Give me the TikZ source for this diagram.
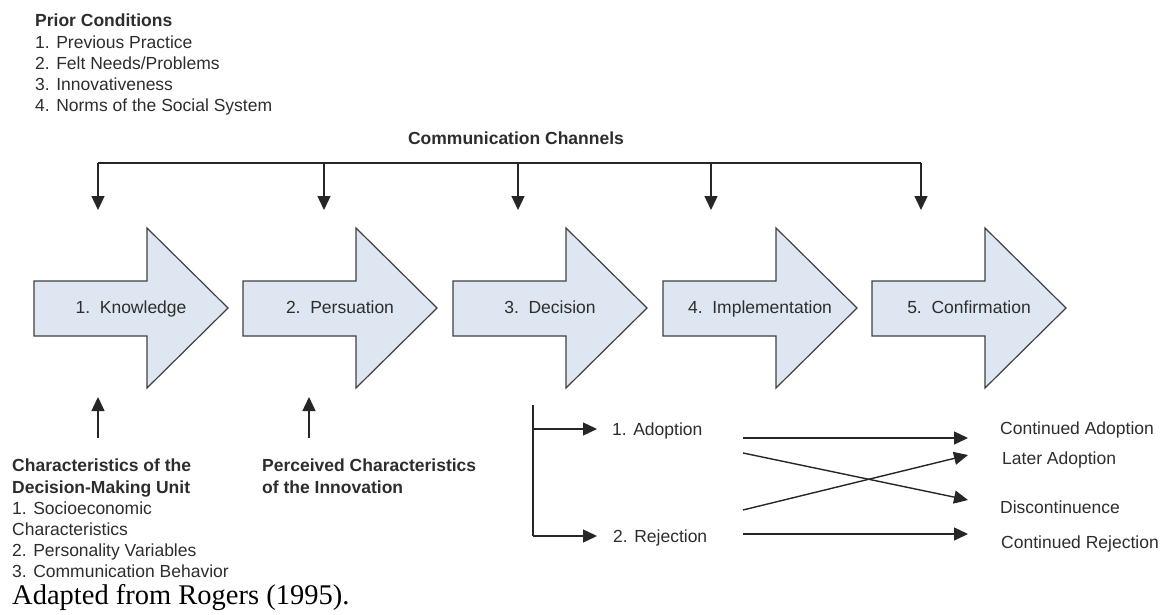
\documentclass[tikz,border=0pt]{standalone}
\usepackage{fontspec}
\setmainfont{Liberation Sans}
\newfontfamily\serifcap{Liberation Serif}
\usetikzlibrary{arrows.meta}
\definecolor{arrowfill}{RGB}{222,230,242}
\definecolor{edgegray}{RGB}{64,64,64}
\definecolor{txtgray}{RGB}{45,45,45}
\tikzset{
  bigarrow/.style={draw=edgegray, fill=arrowfill, line width=1.2pt, line join=miter},
  stagelabel/.style={text=txtgray, font=\fontsize{17.5}{21}\selectfont, inner sep=0pt, anchor=base},
  listtext/.style={text=txtgray, font=\fontsize{17.5}{21.2}\selectfont, align=left, inner sep=0pt, anchor=north west},
  outlabel/.style={text=txtgray, font=\fontsize{17.5}{21}\selectfont, inner sep=0pt, anchor=base west},
  conn/.style={draw=black!85, line width=1.4pt, -{Triangle[width=13pt,length=14pt]}},
  plainline/.style={draw=black!85, line width=1.4pt}
}
\begin{document}
\begin{tikzpicture}[x=1pt,y=-1pt]
\useasboundingbox (0,0) rectangle (1172,615);

% Prior conditions
\node[listtext] (prior) at (35,14) {\textbf{Prior Conditions}\\1. Previous Practice\\2. Felt Needs/Problems\\3. Innovativeness\\4. Norms of the Social System};

% Communication channels
\node[text=txtgray, font=\fontsize{17.5}{21}\selectfont\bfseries, inner sep=0pt, anchor=base] (cc) at (516,144) {Communication Channels};

% Stage arrows
\foreach \L/\n/\t in {34/k1/{1.\ \ Knowledge},243/k2/{2.\ \ Persuation},453/k3/{3.\ \ Decision},663/k4/{4.\ \ Implementation},872/k5/{5.\ \ Confirmation}}{
  \path[bigarrow] (\L,281) -- ({\L+113},281) -- ({\L+113},228) -- ({\L+194},308) -- ({\L+113},388) -- ({\L+113},336) -- (\L,336) -- cycle;
  \node[stagelabel] (\n) at ({\L+97},313) {\t};
}

% channel bus
\foreach \i/\x in {1/98,2/324,3/518,4/711,5/921}{
  \coordinate (ct\i) at (\x,163);
  \coordinate (cd\i) at (\x,210);
}
\draw[plainline] (ct1) -- (ct5);
\foreach \i in {1,...,5}{\draw[conn] (ct\i) -- (cd\i);}

% up arrows
\coordinate (u1b) at (98,438); \coordinate (u1t) at (98,397);
\coordinate (u2b) at (309,438); \coordinate (u2t) at (309,397);
\draw[conn] (u1b) -- (u1t);
\draw[conn] (u2b) -- (u2t);

% bottom-left texts
\node[listtext] (dmu) at (12,459) {\textbf{Characteristics of the}\\\textbf{Decision-Making Unit}\\1. Socioeconomic\\Characteristics\\2. Personality Variables\\3. Communication Behavior};
\node[listtext] (pci) at (262,459) {\textbf{Perceived Characteristics}\\\textbf{of the Innovation}};

% decision branches
\coordinate (dtop) at (533,405);
\coordinate (dmid) at (533,429);
\coordinate (dbot) at (533,536);
\coordinate (adoTip) at (597,429);
\coordinate (rejTip) at (597,536);
\draw[plainline] (dtop) -- (dbot);
\draw[conn] (dmid) -- (adoTip);
\draw[conn] (dbot) -- (rejTip);
\node[outlabel] (ado) at (612,435) {1. Adoption};
\node[outlabel] (rej) at (613,542) {2. Rejection};

% outcome arrows
\coordinate (a1) at (743,438); \coordinate (b1) at (968,438);
\coordinate (a2) at (743,453); \coordinate (b2) at (968,500);
\coordinate (a3) at (743,510); \coordinate (b3) at (968,455);
\coordinate (a4) at (743,534); \coordinate (b4) at (968,534);
\draw[conn] (a1) -- (b1);
\draw[conn] (a2) -- (b2);
\draw[conn] (a3) -- (b3);
\draw[conn] (a4) -- (b4);
\node[outlabel] (ca) at (1000,434) {Continued Adoption};
\node[outlabel] (la) at (1002,464) {Later Adoption};
\node[outlabel] (dc) at (1000,513) {Discontinuence};
\node[outlabel] (cr) at (1001,548) {Continued Rejection};

% caption
\node[text=black, font=\serifcap\fontsize{28.5}{31}\selectfont, inner sep=0pt, anchor=base west] (cap) at (12,604) {Adapted from Rogers (1995).};
\end{tikzpicture}
\end{document}
